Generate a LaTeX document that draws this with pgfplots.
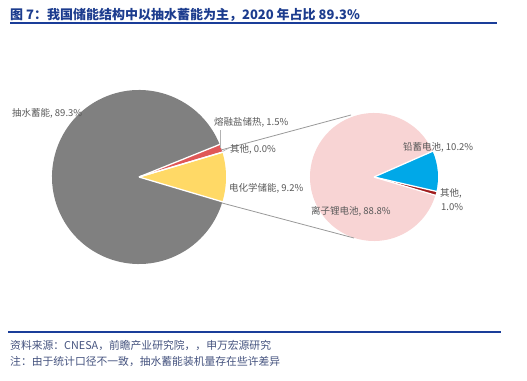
\documentclass[border=0pt]{standalone}
\usepackage{pgfplots}
\pgfplotsset{compat=1.18}
\usepackage{pgfplotstable}
\usepackage{fontspec}
\setmainfont{Noto Sans CJK SC}
\definecolor{pieGray}{HTML}{808080}
\definecolor{pieRed}{HTML}{E05757}
\definecolor{pieYellow}{HTML}{FFD966}
\definecolor{piePink}{HTML}{F8D4D4}
\definecolor{pieBlue}{HTML}{00A8E8}
\definecolor{pieDark}{HTML}{A01C1C}
\definecolor{lblGray}{HTML}{595959}
\definecolor{titleBlue}{HTML}{1C3C8E}
\definecolor{lineBlue}{HTML}{1A3D99}
\definecolor{footBlue}{HTML}{44527E}

% big pie: counter-clockwise from start angle
\pgfplotstableread[col sep=comma]{
name,value,color
电化学储能,9.2,pieYellow
其他,0.0,pieGray
熔融盐储热,1.5,pieRed
抽水蓄能,89.3,pieGray
}\bigpie
% small pie
\pgfplotstableread[col sep=comma]{
name,value,color
其他,1.0,pieDark
铅蓄电池,10.2,pieBlue
离子锂电池,88.8,piePink
}\smallpie

\begin{document}
\begin{tikzpicture}
\begin{axis}[x=1pt, y=1pt, xmin=0, xmax=527, ymin=0, ymax=380,
  hide axis, scale only axis, clip=false]
\pgfplotsextra{
  \path (axis cs:0,0) rectangle (axis cs:527,380);
  % big pie
  \gdef\curang{-16.56}
  \foreach \i in {0,...,3}{
    \pgfplotstablegetelem{\i}{value}\of\bigpie \let\v\pgfplotsretval
    \pgfplotstablegetelem{\i}{color}\of\bigpie \let\c\pgfplotsretval
    \pgfmathsetmacro\endang{\curang+3.6*\v}
    \fill[\c] (axis cs:139,203) -- ++(\curang:87pt) arc[start angle=\curang, end angle=\endang, radius=87pt] -- cycle;
    \xdef\curang{\endang}
  }
  \gdef\curang{-16.56}
  \foreach \i in {0,...,3}{
    \pgfplotstablegetelem{\i}{value}\of\bigpie \let\v\pgfplotsretval
    \pgfmathsetmacro\endang{\curang+3.6*\v}
    \draw[white, line width=1.3pt] (axis cs:139,203) -- ++(\curang:87.5pt);
    \xdef\curang{\endang}
  }
  % small pie
  \gdef\curang{-16.6}
  \foreach \i in {0,...,2}{
    \pgfplotstablegetelem{\i}{value}\of\smallpie \let\v\pgfplotsretval
    \pgfplotstablegetelem{\i}{color}\of\smallpie \let\c\pgfplotsretval
    \pgfmathsetmacro\endang{\curang+3.6*\v}
    \fill[\c] (axis cs:374,203) -- ++(\curang:64pt) arc[start angle=\curang, end angle=\endang, radius=64pt] -- cycle;
    \xdef\curang{\endang}
  }
  \gdef\curang{-16.6}
  \foreach \i in {0,...,2}{
    \pgfplotstablegetelem{\i}{value}\of\smallpie \let\v\pgfplotsretval
    \pgfmathsetmacro\endang{\curang+3.6*\v}
    \draw[white, line width=1.3pt] (axis cs:374,203) -- ++(\curang:64.5pt);
    \xdef\curang{\endang}
  }
}
% connector lines
\addplot[gray!80, line width=0.8pt] coordinates {(221,230) (351,265)};
\addplot[gray!80, line width=0.8pt] coordinates {(222,177) (354,142)};
% leader lines
\addplot[gray!60, line width=0.6pt] coordinates {(220.5,231.5) (220.5,250)};
\addplot[gray!60, line width=0.6pt] coordinates {(222.5,228.5) (229,232)};
% title & rules
\node[anchor=west, text=titleBlue, font=\fontsize{13}{15}\selectfont\bfseries, inner sep=0pt] at (axis cs:10,365) {图 7：我国储能结构中以抽水蓄能为主，2020 年占比 89.3\%};
\addplot[lineBlue, line width=1.3pt] coordinates {(10,357) (497,357)};
\addplot[lineBlue, line width=1.1pt] coordinates {(8,48) (501,48)};
\node[anchor=west, text=footBlue, font=\fontsize{10.8}{12}\selectfont, inner sep=0pt] at (axis cs:10,35) {资料来源：CNESA，前瞻产业研究院，，申万宏源研究};
\node[anchor=west, text=footBlue, font=\fontsize{10.8}{12}\selectfont, inner sep=0pt] at (axis cs:10,18) {注：由于统计口径不一致，抽水蓄能装机量存在些许差异};
% labels
\begin{scope}[every node/.style={anchor=west, text=lblGray, font=\fontsize{9.5}{11}\selectfont, inner sep=0pt}]
\node at (axis cs:12,267) {抽水蓄能, 89.3\%};
\node at (axis cs:214,258) {熔融盐储热, 1.5\%};
\node at (axis cs:230,231) {其他, 0.0\%};
\node at (axis cs:229,192) {电化学储能, 9.2\%};
\node at (axis cs:403,233) {铅蓄电池, 10.2\%};
\node at (axis cs:440,187) {其他,};
\node at (axis cs:441,173) {1.0\%};
\node at (axis cs:311,169) {离子锂电池, 88.8\%};
\end{scope}
\end{axis}
\end{tikzpicture}
\end{document}
